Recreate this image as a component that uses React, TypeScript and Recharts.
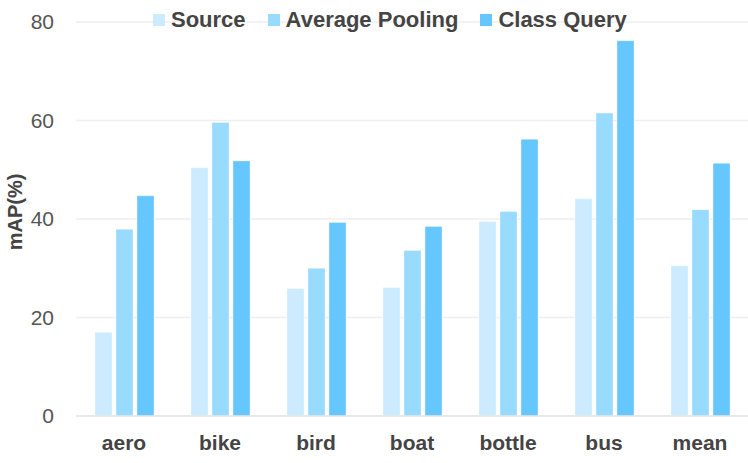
import React from 'react';
import { BarChart, Bar, XAxis, YAxis, CartesianGrid } from 'recharts';

const categories = ['aero', 'bike', 'bird', 'boat', 'bottle', 'bus', 'mean'];
const sourceValues = [17.0, 50.4, 25.9, 26.1, 39.5, 44.1, 30.5];
const avgPoolingValues = [37.9, 59.6, 30.0, 33.6, 41.5, 61.5, 41.9];
const classQueryValues = [44.7, 51.8, 39.3, 38.5, 56.2, 76.2, 51.3];
const yTicks = [0, 20, 40, 60, 80];

const seriesNames = ['Source', 'Average Pooling', 'Class Query'];
const seriesKeys = ['source', 'avg', 'cls'];
const seriesColors = ['#CCEBFF', '#99DAFF', '#66C7FF'];

const data = categories.map((c, i) => ({
  name: c,
  source: sourceValues[i],
  avg: avgPoolingValues[i],
  cls: classQueryValues[i],
}));

const FONT = '"Liberation Sans", Arial, Helvetica, sans-serif';

const YLabel = (props: any) => {
  const vb = props.viewBox || {};
  const cx = 15;
  const cy = (vb.y || 22) + (vb.height || 394) / 2 - 7;
  return (
    <text
      x={cx}
      y={cy}
      transform={`rotate(-90, ${cx}, ${cy})`}
      textAnchor="middle"
      dominantBaseline="central"
      fontFamily={FONT}
      fontWeight="bold"
      fontSize={20}
      fill="#444"
    >
      mAP(%)
    </text>
  );
};

export default function App() {
  return (
    <div style={{ position: 'absolute', left: 0, top: 0, width: 748, height: 463, background: '#fff' }}>
      <BarChart
        width={748}
        height={463}
        data={data}
        margin={{ top: 22, right: 0, bottom: 0, left: 0 }}
        barCategoryGap={18}
        barGap={4}
      >
        <CartesianGrid vertical={false} stroke="#EFEFEF" strokeWidth={1.5} />
        <XAxis
          dataKey="name"
          height={47}
          tickLine={false}
          tickSize={0}
          tickMargin={19}
          axisLine={{ stroke: '#E6E6E6', strokeWidth: 1.5 }}
          tick={{ fontFamily: FONT, fontSize: 21, fontWeight: 'bold', fill: '#444' }}
        />
        <YAxis
          width={76}
          domain={[0, 80]}
          ticks={yTicks}
          tickLine={false}
          axisLine={false}
          tickSize={0}
          tickMargin={22}
          tick={{ fontFamily: FONT, fontSize: 21, fill: '#555' }}
          label={<YLabel />}
        />
        {seriesKeys.map((k, i) => (
          <Bar
            key={k}
            dataKey={k}
            name={seriesNames[i]}
            fill={seriesColors[i]}
            stroke="#ffffff"
            strokeOpacity={0.35}
            strokeWidth={1}
            barSize={17}
            isAnimationActive={false}
          />
        ))}
      </BarChart>
      <div
        style={{
          position: 'absolute',
          left: 153,
          top: 9,
          height: 22,
          display: 'flex',
          alignItems: 'center',
          fontFamily: FONT,
          fontWeight: 'bold',
          fontSize: 22,
          color: '#444',
          whiteSpace: 'nowrap',
        }}
      >
        {seriesNames.map((n, i) => (
          <div key={n} style={{ display: 'flex', alignItems: 'center', marginRight: 22 }}>
            <span style={{ display: 'inline-block', width: 12, height: 12, background: seriesColors[i], marginRight: 6 }} />
            <span style={{ lineHeight: '22px' }}>{n}</span>
          </div>
        ))}
      </div>
    </div>
  );
}
